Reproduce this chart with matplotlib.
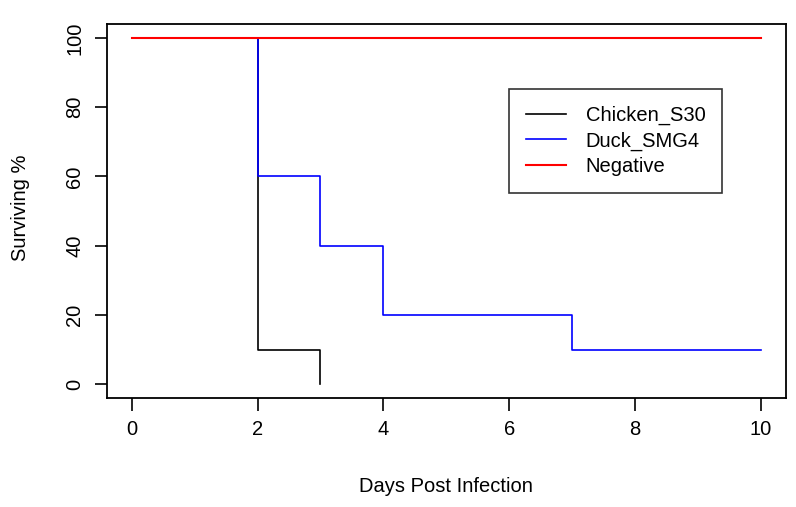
import matplotlib
matplotlib.use("Agg")
import matplotlib.pyplot as plt

plt.rcParams['font.family'] = ['Liberation Sans', 'DejaVu Sans']

# Survival data (days post infection, % surviving)
chicken_days = [0, 2, 3]
chicken_surv = [100, 10, 0]
duck_days = [0, 2, 3, 4, 7, 10]
duck_surv = [100, 60, 40, 20, 10, 10]
neg_days = [0, 10]
neg_surv = [100, 100]

labels = ['Chicken_S30', 'Duck_SMG4', 'Negative']
colors = ['black', 'blue', 'red']
xticks = [0, 2, 4, 6, 8, 10]
yticks = [0, 20, 40, 60, 80, 100]

fs = 14.5

fig = plt.figure(figsize=(7.96, 5.07), dpi=100)
ax = fig.add_axes([106.5 / 796, 1 - 398 / 507, (786 - 106.5) / 796, (398 - 24) / 507])

ax.step(chicken_days, chicken_surv, where='post', color=colors[0], lw=1.2, label=labels[0])
ax.step(duck_days, duck_surv, where='post', color=colors[1], lw=1.2, label=labels[1])
ax.step(neg_days, neg_surv, where='post', color=colors[2], lw=1.5, label=labels[2])

ax.set_xlim(-0.4, 10.4)
ax.set_ylim(-4, 104)
ax.set_xticks(xticks)
ax.set_yticks(yticks)
ax.set_yticklabels([str(v) for v in yticks], rotation=90, va='center')
ax.tick_params(axis='both', labelsize=fs, length=9, width=1.2, pad=7)
for s in ax.spines.values():
    s.set_linewidth(1.3)

ax.set_xlabel('Days Post Infection', fontsize=fs)
ax.set_ylabel('Surviving %', fontsize=fs)
ax.xaxis.set_label_coords((446 - 106.5) / 679.5, (398 - 487) / 374)
ax.xaxis.label.set_va('center')
ax.yaxis.set_label_coords((20 - 106.5) / 679.5, (398 - 208) / 374)
ax.yaxis.label.set_va('center')

leg = ax.legend(loc='upper left', bbox_to_anchor=(509 / 796, 1 - 89 / 507),
                bbox_transform=fig.transFigure, fontsize=fs, frameon=True,
                fancybox=False, edgecolor='black', borderaxespad=0,
                handlelength=2.0, handletextpad=0.95, labelspacing=0.3,
                borderpad=0.85)
leg.get_frame().set_linewidth(1.2)

fig.savefig('out.png', dpi=100)
